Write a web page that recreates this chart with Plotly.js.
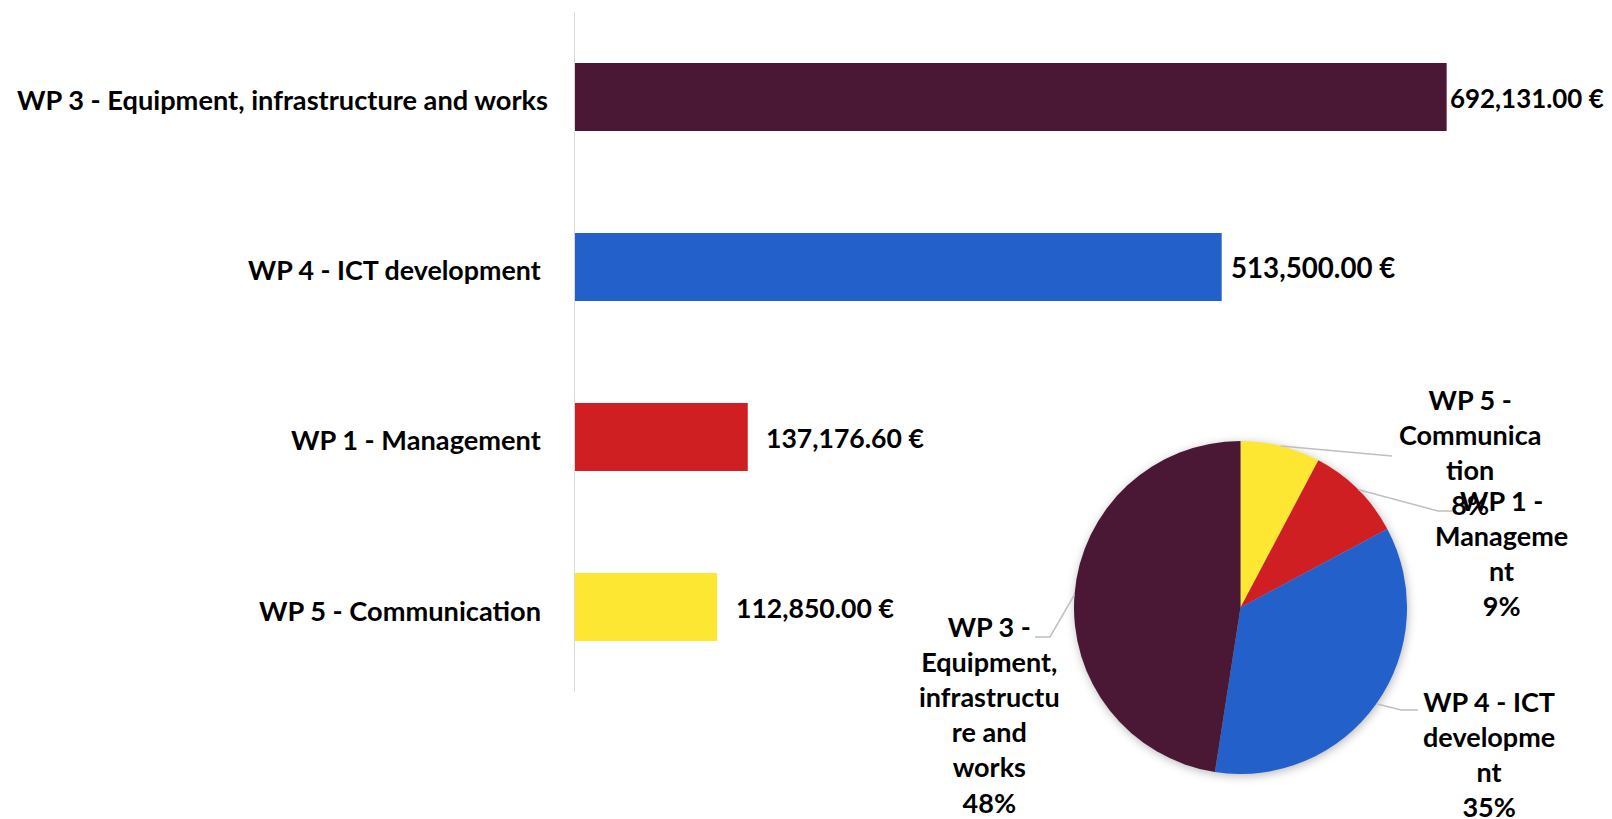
<!DOCTYPE html>
<html>
<head>
<meta charset="utf-8">
<script src="https://cdn.plot.ly/plotly-3.0.1.min.js"></script>
<style>
  html, body { margin: 0; padding: 0; background: #ffffff; }
  #chart { width: 1612px; height: 819px; }
  .pielayer { filter: drop-shadow(1px 2px 5px rgba(0,0,0,0.28)); }
</style>
</head>
<body>
<div id="chart"></div>
<script>
// ---- data (Excel order: first category at the bottom) ----
const categories = [
  'WP 5 - Communication',
  'WP 1 - Management',
  'WP 4 - ICT development',
  'WP 3 - Equipment, infrastructure and works'
];
const budgets = [112850.00, 137176.60, 513500.00, 692131.00];
const tickLabels = [
  'WP 5 - Communication',
  'WP 1 - Management',
  'WP 4 - ICT development',
  'WP 3 - Equipment, infrastructure and works'
];
const pieLabelLines = [
  'WP 5 -<br>Communica<br>tion',
  'WP 1 -<br>Manageme<br>nt',
  'WP 4 - ICT<br>developme<br>nt',
  'WP 3 -<br>Equipment,<br>infrastructu<br>re and<br>works'
];
const colors = ['#fde733', '#d01f22', '#2360ca', '#4a1734'];

// ---- styling / layout helpers ----
const W = 1612, H = 819;
const FONT = 'Lato, "Open Sans", sans-serif';
const CAT_FS = 27.2;
const PIE_FS = 27;
const px = x => x / W;
const py = y => 1 - y / H;

// category label gap from axis (px) per bar
const catShift = [-32, -32, -32, -25];
const catSize = [CAT_FS, CAT_FS, 26.8, CAT_FS];
// bar value label offsets (px from bar end) and font sizes
const valueShift = [17, 16, 7, 1];
const valueSize = [26.6, 26.6, 27.7, 25.9];

// pie geometry (pixels)
const pieCx = 1240.5, pieCy = 607.5, pieR = 166.5;
// pie label centres and leader line paths (pixels), per slice
const pieLabelPos = [[1470, 452], [1501, 553], [1489, 754], [989, 714]];
const leaderTail = [
  [[1392, 456]],
  [[1438, 511], [1452, 511]],
  [[1401, 710], [1418, 710]],
  [[1050, 637], [1035, 637]]
];

const total = budgets.reduce((a, b) => a + b, 0);
const fmt = v => v.toLocaleString('en-US', {minimumFractionDigits: 2, maximumFractionDigits: 2}) + ' €';

const barTrace = {
  type: 'bar',
  orientation: 'h',
  y: categories,
  x: budgets,
  marker: {color: colors},
  width: 0.4,
  hoverinfo: 'x+y',
  xaxis: 'x', yaxis: 'y'
};

const pieTrace = {
  type: 'pie',
  labels: categories,
  values: budgets,
  sort: false,
  direction: 'clockwise',
  rotation: 0,
  marker: {colors: colors, line: {width: 0}},
  textinfo: 'none',
  showlegend: false,
  domain: {x: [px(pieCx - pieR), px(pieCx + pieR)], y: [py(pieCy + pieR), py(pieCy - pieR)]}
};

const annotations = [];
const shapes = [];
budgets.forEach((v, i) => {
  // category label
  annotations.push({
    x: 0, y: categories[i], xref: 'x', yref: 'y',
    xanchor: 'right', yanchor: 'middle', xshift: catShift[i], yshift: -3,
    text: tickLabels[i], showarrow: false,
    font: {family: FONT, size: catSize[i], color: '#000', weight: 700}
  });
  // value label
  annotations.push({
    x: v, y: categories[i], xref: 'x', yref: 'y',
    xanchor: 'left', yanchor: 'middle', xshift: valueShift[i], yshift: -1,
    text: fmt(v), showarrow: false,
    font: {family: FONT, size: valueSize[i], color: '#000', weight: 700}
  });
});

let cum = 0;
budgets.forEach((v, i) => {
  const frac = v / total;
  const mid = (cum + frac / 2) * 2 * Math.PI;
  cum += frac;
  const sx = pieCx + pieR * Math.sin(mid);
  const sy = pieCy - pieR * Math.cos(mid);
  let d = 'M ' + px(sx) + ' ' + py(sy);
  leaderTail[i].forEach(p => { d += ' L ' + px(p[0]) + ' ' + py(p[1]); });
  shapes.push({type: 'path', xref: 'paper', yref: 'paper', path: d,
    line: {color: '#bfbfbf', width: 1.5}, layer: 'above'});
  const pct = Math.round(frac * 100) + '%';
  annotations.push({
    x: px(pieLabelPos[i][0]), y: py(pieLabelPos[i][1]), xref: 'paper', yref: 'paper',
    xanchor: 'center', yanchor: 'middle', align: 'center',
    text: pieLabelLines[i] + '<br>' + pct, showarrow: false,
    font: {family: FONT, size: PIE_FS, color: '#000', weight: 700}
  });
});

const layout = {
  width: W, height: H,
  margin: {l: 0, r: 0, t: 0, b: 0},
  paper_bgcolor: '#ffffff', plot_bgcolor: 'rgba(0,0,0,0)',
  showlegend: false,
  bargap: 0.6,
  xaxis: {
    domain: [px(575), px(1582.5)],
    range: [0, 800000],
    showgrid: false, zeroline: false, showticklabels: false, showline: false,
    fixedrange: true
  },
  yaxis: {
    domain: [py(692), py(12)],
    type: 'category',
    showgrid: false, zeroline: false, showticklabels: false, ticks: '',
    showline: true, linecolor: '#d9d9d9', linewidth: 1.5,
    fixedrange: true
  },
  annotations: annotations,
  shapes: shapes
};

Plotly.newPlot('chart', [barTrace, pieTrace], layout, {displayModeBar: false, staticPlot: true});
</script>
</body>
</html>
